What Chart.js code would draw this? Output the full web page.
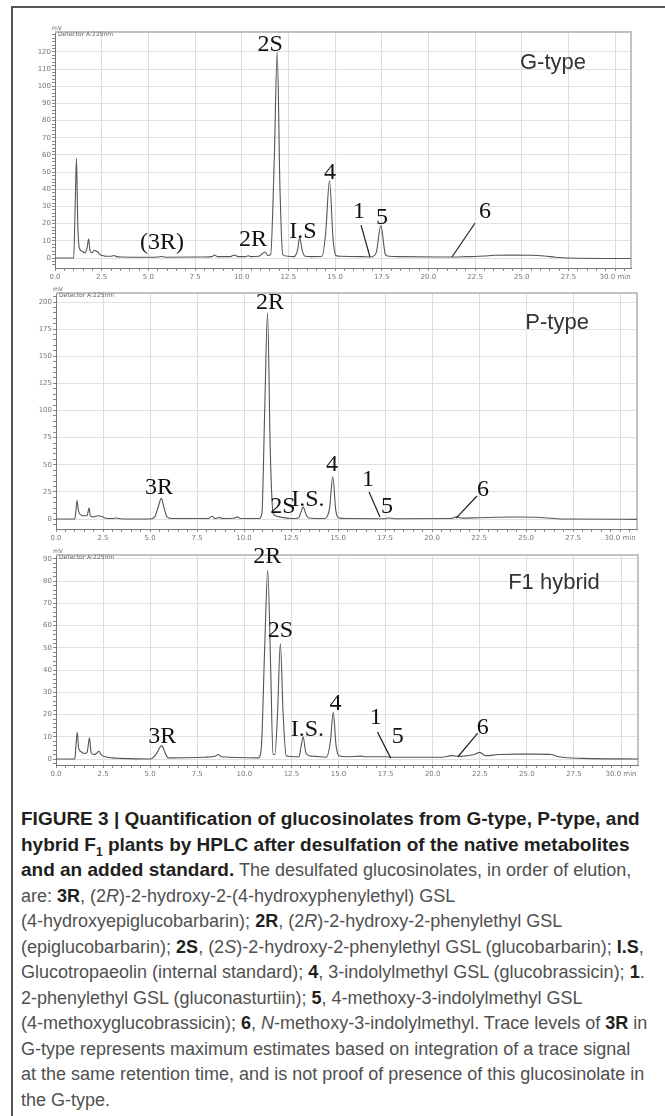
<!DOCTYPE html>
<html lang="en">
<head>
<meta charset="UTF-8" />
<title>Figure 3 – HPLC of desulfo-glucosinolates</title>
<script src="https://cdn.jsdelivr.net/npm/chart.js"></script>
<style>
  html, body { margin: 0; padding: 0; background: #fff; }
  body { width: 665px; height: 1116px; position: relative; overflow: hidden; }
  .frame { position: absolute; left: 11px; top: 6px; width: 700px; height: 1200px;
           border-top: 2px solid #555; border-left: 2px solid #555; }
  canvas { position: absolute; left: 0; }
  .caption { position: absolute; left: 21px; top: 806px; white-space: nowrap;
             font-family: "Liberation Sans", Arial, sans-serif; font-size: 18px;
             line-height: 25.5px; color: #505050; }
  .caption b { color: #231f20; }
  .caption .head { font-size: 19px; font-weight: bold; color: #231f20; }
  .caption sub { font-size: 12px; line-height: 0; }
</style>
</head>
<body>
<div class="frame"></div>
<canvas id="gType"></canvas>
<canvas id="pType"></canvas>
<canvas id="f1Hybrid"></canvas>

<div class="caption">
  <div class="head">FIGURE 3 | Quantification of glucosinolates from G-type, P-type, and</div>
  <div class="head">hybrid F<sub>1</sub> plants by HPLC after desulfation of the native metabolites</div>
  <div><span class="head">and an added standard.</span> The desulfated glucosinolates, in order of elution,</div>
  <div>are: <b>3R</b>, (2<i>R</i>)-2-hydroxy-2-(4-hydroxyphenylethyl) GSL</div>
  <div>(4-hydroxyepiglucobarbarin); <b>2R</b>, (2<i>R</i>)-2-hydroxy-2-phenylethyl GSL</div>
  <div>(epiglucobarbarin); <b>2S</b>, (2<i>S</i>)-2-hydroxy-2-phenylethyl GSL (glucobarbarin); <b>I.S</b>,</div>
  <div>Glucotropaeolin (internal standard); <b>4</b>, 3-indolylmethyl GSL (glucobrassicin); <b>1</b>.</div>
  <div>2-phenylethyl GSL (gluconasturtiin); <b>5</b>, 4-methoxy-3-indolylmethyl GSL</div>
  <div>(4-methoxyglucobrassicin); <b>6</b>, <i>N</i>-methoxy-3-indolylmethyl. Trace levels of <b>3R</b> in</div>
  <div>G-type represents maximum estimates based on integration of a trace signal</div>
  <div>at the same retention time, and is not proof of presence of this glucosinolate in</div>
  <div>the G-type.</div>
</div>

<script>
  // retention time (min) and detector signal (mV)
  const gTime = [0, 1.0, 1.08, 1.15, 1.22, 1.3, 1.45, 1.6, 1.72, 1.8, 1.88, 1.98, 2.1, 2.2, 2.3, 2.4, 2.55, 2.7, 3.0, 3.15,
    3.3, 3.6, 5.0, 5.5, 5.7, 5.9, 8.0, 8.4, 8.55, 8.7, 9.4, 9.6, 9.8, 10.2, 10.35, 10.5, 10.9, 11.1, 11.25, 11.4,
    11.55, 11.75, 11.9, 12.05, 12.2, 12.5, 12.8, 13.0, 13.1, 13.25, 13.4, 13.7, 14.3, 14.5, 14.7, 14.9, 15.05, 15.3, 16.5, 16.9,
    17.2, 17.45, 17.7, 17.9, 18.5, 20.5, 21.5, 22.0, 22.5, 23.0, 23.5, 24.5, 25.5, 26.2, 26.8, 27.5, 30.85];
  const gSignal = [0, 0, 30, 58, 20, 6, 4, 3, 6, 11, 4, 3, 4.5, 4, 3.5, 2, 1.5, 1, 1, 1.5,
    0.8, 0.6, 0.5, 0.6, 0.9, 0.5, 0.6, 0.8, 1.8, 0.8, 0.8, 1.8, 0.8, 0.8, 1.3, 0.8, 1, 2.5, 3.5, 1.5,
    2, 60, 120, 40, 2, 1, 0.8, 5, 12, 4, 1, 0.8, 1, 15, 45, 10, 1.5, 1, 0.8, 0.6,
    3, 19, 2, 1, 0.8, 0.6, 0.6, 0.8, 0.9, 1.2, 1.6, 1.7, 1.6, 1.2, 0.5, 0, -0.3];

  const pTime = [0, 1.0, 1.06, 1.12, 1.19, 1.3, 1.5, 1.65, 1.76, 1.83, 2.0, 2.2, 2.4, 2.6, 3.0, 3.2, 3.4, 5.0, 5.25, 5.45,
    5.6, 5.75, 5.9, 6.15, 8.1, 8.3, 8.45, 8.7, 8.85, 9.5, 9.65, 9.8, 10.8, 10.95, 11.1, 11.25, 11.4, 11.55, 11.75, 12.0,
    12.5, 12.9, 13.02, 13.15, 13.3, 13.45, 14.3, 14.55, 14.72, 14.88, 15.05, 15.4, 17.5, 17.7, 18.0, 21.0, 21.3, 21.6, 22.5, 24.5,
    25.5, 26.5, 27.0, 30.9];
  const pSignal = [0, 0, 8, 17, 8, 4, 3, 3, 10, 3, 2, 3, 2.5, 1, 0.5, 1, 0.3, 0, 2, 12,
    19, 10, 2, 0.5, 0.5, 2.5, 0.5, 1.5, 0.5, 1, 2, 0.5, 0.5, 5, 100, 190, 60, 5, 2.5, 1.5,
    0.5, 1, 6, 11, 4, 1, 0.5, 10, 39, 8, 1, 0.5, 0.3, 1, 0.3, 0.5, 2, 0.8, 1.2, 1.8,
    1.6, 0.5, 0, -0.3];

  const fTime = [0, 1.0, 1.06, 1.13, 1.2, 1.3, 1.5, 1.65, 1.78, 1.86, 2.0, 2.15, 2.28, 2.4, 2.6, 3.0, 3.4, 5.0, 5.3, 5.5,
    5.62, 5.78, 5.95, 7.9, 8.45, 8.6, 8.8, 10.75, 10.9, 11.08, 11.24, 11.4, 11.52, 11.62, 11.76, 11.91, 12.06, 12.22, 12.6, 12.9,
    13.0, 13.12, 13.26, 13.45, 13.8, 14.35, 14.57, 14.72, 14.87, 15.02, 15.4, 16.2, 16.4, 17.5, 18.0, 20.5, 21.0, 21.5, 22.2, 22.5,
    22.8, 23.5, 24.5, 25.5, 26.3, 26.7, 28.0, 30.9];
  const fSignal = [0, 0, 6, 12, 5, 3.5, 2.5, 3, 9.5, 3, 2, 2.5, 3.5, 2, 1, 0.5, 0.3, 0, 2, 5,
    6, 3, 0.5, 0.8, 1.2, 2, 1, 0.5, 5, 50, 85, 40, 2, 2, 20, 52, 20, 1.5, 1, 1,
    5, 10, 3, 1.5, 1.2, 0.8, 8, 21, 6, 1.5, 1, 1.3, 1, 1, 0.8, 0.8, 1.5, 1.2, 2, 3,
    1.5, 2, 2.2, 2.2, 2, 1, 0.3, 0];

  // axis ticks
  const xMajorTicks = [0, 2.5, 5, 7.5, 10, 12.5, 15, 17.5, 20, 22.5, 25, 27.5, 30];
  const gYTicks = [0, 10, 20, 30, 40, 50, 60, 70, 80, 90, 100, 110, 120];
  const pYTicks = [0, 25, 50, 75, 100, 125, 150, 175, 200];
  const fYTicks = [0, 10, 20, 30, 40, 50, 60, 70, 80, 90];

  // peak annotations: name, time and height where the label sits
  const gPeakNames = ['(3R)', '2R', '2S', 'I.S', '4', '1', '5', '6'];
  const gPeakAt = [5.73, 10.6, 11.52, 13.28, 14.73, 16.28, 17.51, 23.03];
  const gPeakLabelY = [8.7, 10.5, 124, 15.1, 49.5, 26.8, 23.3, 26.8];
  const gLeaders = [[16.39, 19.2, 16.87, 0.6], [22.5, 20.4, 21.26, 0.6]];

  const pPeakNames = ['3R', '2R', '2S', 'I.S.', '4', '1', '5', '6'];
  const pPeakAt = [5.48, 11.38, 12.07, 13.4, 14.68, 16.6, 17.61, 22.71];
  const pPeakLabelY = [28.6, 199, 11, 17.5, 49.8, 36, 11, 26.7];
  const pLeaders = [[16.65, 24.9, 17.23, 1.8], [22.39, 21.2, 21.28, 0.9]];

  const fPeakNames = ['3R', '2R', '2S', 'I.S.', '4', '1', '5', '6'];
  const fPeakAt = [5.64, 11.22, 11.91, 13.35, 14.84, 16.97, 18.14, 22.66];
  const fPeakLabelY = [9.9, 90.9, 57.8, 13, 25, 18.4, 9.9, 14.3];
  const fLeaders = [[17.07, 12.1, 17.77, 0.4], [22.39, 11.6, 21.33, 0.9]];

  function subdivide(major, parts, lo, hi) {
    const step = (major[1] - major[0]) / parts;
    const out = [];
    for (let v = Math.ceil(lo / step) * step; v <= hi + 1e-9; v += step) out.push(+v.toFixed(3));
    return out;
  }
  const isOn = (v, list) => list.some(m => Math.abs(m - v) < 1e-6);

  const panelDecor = {
    id: 'panelDecor',
    beforeDatasetsDraw(chart) {
      const { ctx, chartArea: a } = chart;
      ctx.save();
      ctx.strokeStyle = '#c2c2c2';
      ctx.lineWidth = 2;
      ctx.beginPath();
      ctx.moveTo(a.left, a.top);
      ctx.lineTo(a.right, a.top);
      ctx.lineTo(a.right, a.bottom);
      ctx.stroke();
      ctx.restore();
    },
    afterDatasetsDraw(chart, args, o) {
      const { ctx, chartArea: a } = chart;
      const x = chart.scales.x, y = chart.scales.y;
      ctx.save();
      ctx.fillStyle = '#666';
      ctx.font = '6px "DejaVu Sans"';
      ctx.textAlign = 'left';
      ctx.textBaseline = 'bottom';
      ctx.fillText('mV', a.left - 3, a.top - 1);
      ctx.textBaseline = 'top';
      ctx.fillText(o.detector, a.left + 3, a.top - 1);

      ctx.textAlign = 'center';
      ctx.textBaseline = 'middle';
      ctx.fillStyle = '#333';
      ctx.font = '22px "Liberation Sans"';
      ctx.fillText(o.title, x.getPixelForValue(o.titleAt[0]), y.getPixelForValue(o.titleAt[1]));

      ctx.fillStyle = '#111';
      ctx.font = '24px "Liberation Serif"';
      o.names.forEach((n, i) => {
        ctx.fillText(n, x.getPixelForValue(o.at[i]), y.getPixelForValue(o.labelY[i]));
      });

      ctx.strokeStyle = '#222';
      ctx.lineWidth = 1.2;
      o.leaders.forEach(l => {
        ctx.beginPath();
        ctx.moveTo(x.getPixelForValue(l[0]), y.getPixelForValue(l[1]));
        ctx.lineTo(x.getPixelForValue(l[2]), y.getPixelForValue(l[3]));
        ctx.stroke();
      });
      ctx.restore();
    }
  };

  function makePanel(id, s) {
    const cv = document.getElementById(id);
    cv.width = 665;
    cv.height = s.h;
    cv.style.top = s.top + 'px';

    const xAll = subdivide(xMajorTicks, 5, 0, s.xMax);
    const yAll = subdivide(s.yTicks, 5, s.yMin, s.yMax);

    return new Chart(cv, {
      type: 'line',
      data: {
        datasets: [{
          data: s.time.map((t, i) => ({ x: t, y: s.signal[i] })),
          borderColor: '#555',
          borderWidth: 1.1,
          pointRadius: 0,
          fill: false,
          cubicInterpolationMode: 'monotone'
        }]
      },
      options: {
        responsive: false,
        animation: false,
        devicePixelRatio: 1,
        layout: { padding: { top: s.area.top - s.top, right: 665 - s.area.right, left: 0, bottom: 0 } },
        plugins: {
          legend: { display: false },
          tooltip: { enabled: false },
          panelDecor: s.deco
        },
        scales: {
          x: {
            type: 'linear',
            min: 0,
            max: s.xMax,
            afterBuildTicks: sc => { sc.ticks = xAll.map(v => ({ value: v })); },
            afterFit: sc => { sc.height = s.top + s.h - s.area.bottom; },
            grid: {
              color: c => (c.tick && isOn(c.tick.value, xMajorTicks)) ? '#dcdcdc' : 'rgba(0,0,0,0)',
              tickColor: '#888',
              tickLength: 3
            },
            border: { color: '#777', width: 1 },
            ticks: {
              autoSkip: false,
              maxRotation: 0,
              padding: 2,
              color: '#777',
              font: { size: 7, family: 'DejaVu Sans' },
              callback: v => isOn(v, xMajorTicks) ? (v === 30 ? '30.0 min' : v.toFixed(1)) : ''
            }
          },
          y: {
            min: s.yMin,
            max: s.yMax,
            afterBuildTicks: sc => { sc.ticks = yAll.map(v => ({ value: v })); },
            afterFit: sc => { sc.width = s.area.left; },
            grid: {
              color: c => (c.tick && isOn(c.tick.value, s.yTicks)) ? '#e0e0e0' : 'rgba(0,0,0,0)',
              tickColor: '#888',
              tickLength: 3
            },
            border: { color: '#777', width: 1 },
            ticks: {
              autoSkip: false,
              padding: 1,
              color: '#777',
              font: { size: 7, family: 'DejaVu Sans' },
              callback: v => isOn(v, s.yTicks) ? String(v) : ''
            }
          }
        }
      },
      plugins: [panelDecor]
    });
  }

  makePanel('gType', {
    top: 0, h: 285, area: { left: 55, right: 631, top: 32, bottom: 268 },
    time: gTime, signal: gSignal, yTicks: gYTicks, yMin: -5.8, yMax: 131.6, xMax: 30.85,
    deco: { detector: 'Detector A:220nm', title: 'G-type', titleAt: [26.67, 113.6],
            names: gPeakNames, at: gPeakAt, labelY: gPeakLabelY, leaders: gLeaders }
  });

  makePanel('pType', {
    top: 285, h: 260, area: { left: 56, right: 637, top: 293, bottom: 529 },
    time: pTime, signal: pSignal, yTicks: pYTicks, yMin: -9.2, yMax: 208.3, xMax: 30.9,
    deco: { detector: 'Detector A:225nm', title: 'P-type', titleAt: [26.65, 180.6],
            names: pPeakNames, at: pPeakAt, labelY: pPeakLabelY, leaders: pLeaders }
  });

  makePanel('f1Hybrid', {
    top: 545, h: 245, area: { left: 56, right: 638, top: 555, bottom: 765 },
    time: fTime, signal: fSignal, yTicks: fYTicks, yMin: -2.7, yMax: 91.8, xMax: 30.9,
    deco: { detector: 'Detector A:225nm', title: 'F1 hybrid', titleAt: [26.44, 79.3],
            names: fPeakNames, at: fPeakAt, labelY: fPeakLabelY, leaders: fLeaders }
  });
</script>
</body>
</html>
